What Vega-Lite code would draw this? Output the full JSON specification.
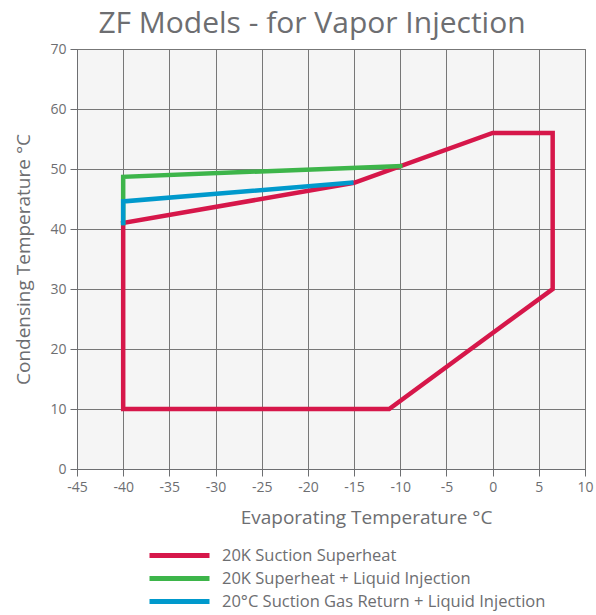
{
  "$schema": "https://vega.github.io/schema/vega-lite/v6.json",
  "width": 508,
  "height": 420,
  "autosize": "none",
  "padding": {"left": 77, "top": 49, "right": 11, "bottom": 146},
  "background": "white",
  "title": {
    "text": "ZF Models - for Vapor Injection",
    "font": "Open Sans",
    "fontSize": 30,
    "fontWeight": "normal",
    "color": "#6d6e71",
    "anchor": "middle",
    "dx": -19,
    "offset": 3
  },
  "config": {
    "view": {"fill": "#f5f5f5", "stroke": "#7a7a7a", "strokeWidth": 1},
    "font": "Open Sans"
  },
  "data": {
    "values": [
      {"series": "20K Suction Superheat", "ord": 1, "evap": -40, "cond": 41},
      {"series": "20K Suction Superheat", "ord": 2, "evap": -15, "cond": 47.7},
      {"series": "20K Suction Superheat", "ord": 3, "evap": 0, "cond": 56},
      {"series": "20K Suction Superheat", "ord": 4, "evap": 6.5, "cond": 56},
      {"series": "20K Suction Superheat", "ord": 5, "evap": 6.5, "cond": 30},
      {"series": "20K Suction Superheat", "ord": 6, "evap": -11.2, "cond": 10},
      {"series": "20K Suction Superheat", "ord": 7, "evap": -40, "cond": 10},
      {"series": "20K Suction Superheat", "ord": 8, "evap": -40, "cond": 41},
      {"series": "20K Superheat + Liquid Injection", "ord": 1, "evap": -40, "cond": 41},
      {"series": "20K Superheat + Liquid Injection", "ord": 2, "evap": -40, "cond": 48.7},
      {"series": "20K Superheat + Liquid Injection", "ord": 3, "evap": -10, "cond": 50.5},
      {"series": "20°C Suction Gas Return + Liquid Injection", "ord": 1, "evap": -40, "cond": 41},
      {"series": "20°C Suction Gas Return + Liquid Injection", "ord": 2, "evap": -40, "cond": 44.6},
      {"series": "20°C Suction Gas Return + Liquid Injection", "ord": 3, "evap": -15.3, "cond": 47.7}
    ]
  },
  "mark": {"type": "line", "strokeWidth": 4.5, "strokeJoin": "miter", "strokeCap": "square", "clip": false},
  "encoding": {
    "x": {
      "field": "evap",
      "type": "quantitative",
      "scale": {"domain": [-45, 10], "nice": false, "zero": false},
      "axis": {
        "values": [-45, -40, -35, -30, -25, -20, -15, -10, -5, 0, 5, 10],
        "labelExpr": "datum.value < 0 ? '-' + abs(datum.value) : '' + datum.value",
        "title": "Evaporating Temperature °C",
        "titleFont": "Open Sans",
        "titleFontSize": 19,
        "titleFontWeight": "normal",
        "titleColor": "#6d6e71",
        "titlePadding": 14,
        "titleX": 289,
        "labelFont": "Open Sans",
        "labelFontSize": 14,
        "labelColor": "#6d6e71",
        "labelPadding": 4,
        "labelFlush": false,
        "domainColor": "#6d6e71",
        "tickColor": "#6d6e71",
        "tickSize": 7,
        "gridColor": "#777777",
        "gridOpacity": 1,
        "gridWidth": 1
      }
    },
    "y": {
      "field": "cond",
      "type": "quantitative",
      "scale": {"domain": [0, 70], "nice": false},
      "axis": {
        "values": [0, 10, 20, 30, 40, 50, 60, 70],
        "title": "Condensing Temperature °C",
        "titleFont": "Open Sans",
        "titleFontSize": 19,
        "titleFontWeight": "normal",
        "titleColor": "#6d6e71",
        "titlePadding": 16,
        "labelFont": "Open Sans",
        "labelFontSize": 14,
        "labelColor": "#6d6e71",
        "labelPadding": 4,
        "labelFlush": false,
        "domainColor": "#6d6e71",
        "tickColor": "#6d6e71",
        "tickSize": 7,
        "gridColor": "#777777",
        "gridOpacity": 1,
        "gridWidth": 1
      }
    },
    "color": {
      "field": "series",
      "type": "nominal",
      "scale": {
        "domain": ["20K Suction Superheat", "20K Superheat + Liquid Injection", "20°C Suction Gas Return + Liquid Injection"],
        "range": ["#d6174a", "#3db54a", "#0099cc"]
      },
      "legend": {
        "orient": "none",
        "legendX": 90,
        "legendY": 494,
        "title": null,
        "symbolType": "M-3,0H3",
        "symbolSize": 400,
        "symbolStrokeWidth": 5,
        "labelFont": "Open Sans",
        "labelFontSize": 16.5,
        "labelColor": "#6d6e71",
        "labelOffset": 30,
        "rowPadding": -3,
        "labelLimit": 400
      }
    },
    "order": {"field": "ord", "type": "quantitative"}
  }
}
